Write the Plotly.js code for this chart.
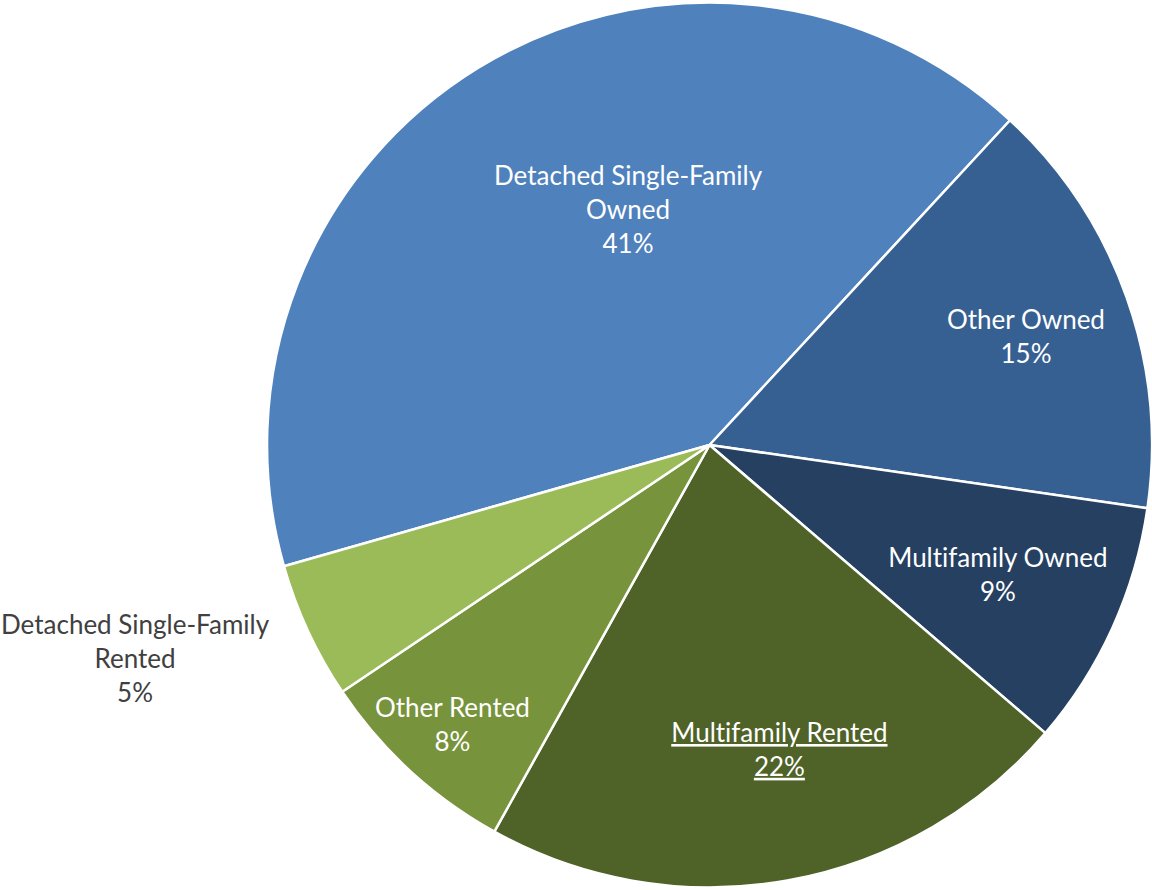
<!DOCTYPE html>
<html>
<head>
<meta charset="utf-8">
<script src="https://cdn.plot.ly/plotly-3.0.1.min.js"></script>
<style>html,body{margin:0;padding:0;background:#fff;}#chart{width:1152px;height:890px;}#chart svg text{font-variant-ligatures:none;font-feature-settings:"liga" 0;}</style>
</head>
<body>
<div id="chart"></div>
<script>
var categories = ["Detached Single-Family Owned", "Other Owned", "Multifamily Owned", "Multifamily Rented", "Other Rented", "Detached Single-Family Rented"];
var displayLabels = ["Detached Single-Family<br>Owned", "Other Owned", "Multifamily Owned", "<u>Multifamily Rented</u>", "Other Rented", "Detached Single-Family<br>Rented"];
var shares = [41.3, 15.4, 9.0, 21.8, 7.5, 5.0];
var pctLabels = ["41%", "15%", "9%", "<u>22%</u>", "8%", "5%"];
var colors = ["#4F81BD", "#376092", "#254061", "#4F6228", "#77933C", "#9BBB59"];

// label placement style: angular offset (deg) from slice middle, radial fraction of radius
var labelAngleOffset = [12.6, 0.5, -0.4, -2.9, 0.0, 4.5];
var labelRadius = [0.563, 0.757, 0.714, 0.705, 0.857, 1.383];
var labelColor = ["#FFFFFF", "#FFFFFF", "#FFFFFF", "#FFFFFF", "#FFFFFF", "#404040"];

var W = 1152, H = 890;
var rotation = -105.9;
var domX = [0.2318, 1.0], domY = [0, 1];
var cx = (domX[0] + domX[1]) / 2, cy = (domY[0] + domY[1]) / 2;
var R = Math.min((domX[1] - domX[0]) * W, (domY[1] - domY[0]) * H) / 2;

var total = shares.reduce(function(a, b){ return a + b; }, 0);
var annotations = [];
var cum = 0;
shares.forEach(function(v, i){
  var mid = rotation + (cum + v / 2) / total * 360 + labelAngleOffset[i];
  cum += v;
  var t = mid * Math.PI / 180;
  var r = R * labelRadius[i];
  annotations.push({
    xref: "paper", yref: "paper",
    x: cx + r * Math.sin(t) / W,
    y: cy + r * Math.cos(t) / H,
    xanchor: "center", yanchor: "middle",
    align: "center",
    showarrow: false,
    text: displayLabels[i] + "<br>" + pctLabels[i],
    font: {family: "Lato, 'Open Sans', sans-serif", size: 26, color: labelColor[i]}
  });
});

var trace = {
  type: "pie",
  labels: categories,
  values: shares,
  textinfo: "none",
  hoverinfo: "label+percent",
  sort: false,
  direction: "clockwise",
  rotation: rotation,
  automargin: false,
  marker: {colors: colors, line: {color: "#FFFFFF", width: 2.5}},
  domain: {x: domX, y: domY},
  showlegend: false
};

var layout = {
  width: W,
  height: H,
  margin: {l: 0, r: 0, t: 0, b: 0},
  paper_bgcolor: "#FFFFFF",
  showlegend: false,
  annotations: annotations
};

Plotly.newPlot("chart", [trace], layout, {displayModeBar: false, staticPlot: true});
</script>
</body>
</html>
